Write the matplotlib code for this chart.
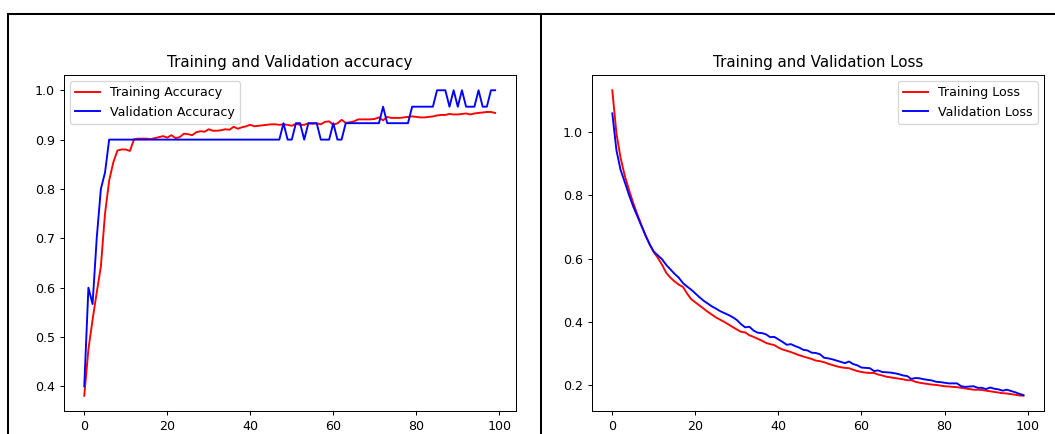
import matplotlib
matplotlib.use("Agg")
import matplotlib.pyplot as plt
from matplotlib.lines import Line2D

epochs = list(range(100))

train_acc = [
    0.381, 0.475, 0.535, 0.590, 0.643, 0.750, 0.817, 0.854, 0.878, 0.880,
    0.880, 0.877, 0.901, 0.902, 0.902, 0.902, 0.901, 0.903, 0.905, 0.907,
    0.904, 0.909, 0.903, 0.905, 0.912, 0.911, 0.909, 0.915, 0.917, 0.916,
    0.921, 0.918, 0.918, 0.919, 0.921, 0.920, 0.926, 0.922, 0.925, 0.927,
    0.930, 0.927, 0.928, 0.929, 0.930, 0.931, 0.931, 0.930, 0.931, 0.930,
    0.928, 0.932, 0.930, 0.930, 0.933, 0.932, 0.933, 0.931, 0.936, 0.937,
    0.930, 0.933, 0.940, 0.934, 0.935, 0.937, 0.941, 0.941, 0.941, 0.941,
    0.942, 0.945, 0.939, 0.946, 0.944, 0.944, 0.944, 0.945, 0.946, 0.947,
    0.946, 0.945, 0.945, 0.946, 0.947, 0.949, 0.950, 0.950, 0.952, 0.951,
    0.951, 0.952, 0.953, 0.951, 0.953, 0.954, 0.955, 0.956, 0.956, 0.954,
]

val_acc = [
    0.4000, 0.6000, 0.5667, 0.7000, 0.8000, 0.8333, 0.9000, 0.9000, 0.9000, 0.9000,
    0.9000, 0.9000, 0.9000, 0.9000, 0.9000, 0.9000, 0.9000, 0.9000, 0.9000, 0.9000,
    0.9000, 0.9000, 0.9000, 0.9000, 0.9000, 0.9000, 0.9000, 0.9000, 0.9000, 0.9000,
    0.9000, 0.9000, 0.9000, 0.9000, 0.9000, 0.9000, 0.9000, 0.9000, 0.9000, 0.9000,
    0.9000, 0.9000, 0.9000, 0.9000, 0.9000, 0.9000, 0.9000, 0.9000, 0.9333, 0.9000,
    0.9000, 0.9333, 0.9333, 0.9000, 0.9333, 0.9333, 0.9333, 0.9000, 0.9000, 0.9000,
    0.9333, 0.9000, 0.9000, 0.9333, 0.9333, 0.9333, 0.9333, 0.9333, 0.9333, 0.9333,
    0.9333, 0.9333, 0.9667, 0.9333, 0.9333, 0.9333, 0.9333, 0.9333, 0.9333, 0.9667,
    0.9667, 0.9667, 0.9667, 0.9667, 0.9667, 1.0000, 1.0000, 1.0000, 0.9667, 1.0000,
    0.9667, 1.0000, 0.9667, 0.9667, 0.9667, 1.0000, 0.9667, 0.9667, 1.0000, 1.0000,
]

train_loss = [
    1.132, 0.995, 0.918, 0.862, 0.818, 0.777, 0.741, 0.706, 0.674, 0.645,
    0.620, 0.602, 0.580, 0.555, 0.540, 0.528, 0.518, 0.511, 0.490, 0.472,
    0.462, 0.452, 0.442, 0.432, 0.423, 0.414, 0.407, 0.400, 0.392, 0.384,
    0.376, 0.369, 0.367, 0.358, 0.353, 0.347, 0.341, 0.334, 0.330, 0.327,
    0.319, 0.313, 0.309, 0.305, 0.300, 0.295, 0.291, 0.287, 0.283, 0.278,
    0.276, 0.273, 0.268, 0.264, 0.260, 0.257, 0.255, 0.254, 0.249, 0.245,
    0.242, 0.240, 0.239, 0.239, 0.234, 0.231, 0.227, 0.225, 0.223, 0.221,
    0.219, 0.216, 0.216, 0.211, 0.208, 0.206, 0.204, 0.202, 0.201, 0.199,
    0.197, 0.196, 0.195, 0.194, 0.192, 0.190, 0.188, 0.186, 0.186, 0.185,
    0.183, 0.181, 0.179, 0.177, 0.175, 0.174, 0.172, 0.170, 0.168, 0.167,
]

val_loss = [
    1.059, 0.942, 0.880, 0.842, 0.802, 0.766, 0.735, 0.704, 0.673, 0.645,
    0.622, 0.610, 0.598, 0.580, 0.566, 0.552, 0.540, 0.523, 0.512, 0.502,
    0.490, 0.478, 0.467, 0.458, 0.449, 0.442, 0.434, 0.428, 0.422, 0.415,
    0.406, 0.393, 0.383, 0.385, 0.373, 0.366, 0.365, 0.361, 0.352, 0.353,
    0.345, 0.337, 0.328, 0.330, 0.324, 0.319, 0.312, 0.310, 0.303, 0.302,
    0.298, 0.287, 0.285, 0.282, 0.278, 0.274, 0.270, 0.275, 0.267, 0.263,
    0.256, 0.255, 0.254, 0.245, 0.247, 0.242, 0.241, 0.240, 0.238, 0.235,
    0.231, 0.229, 0.220, 0.223, 0.222, 0.219, 0.217, 0.215, 0.211, 0.210,
    0.208, 0.206, 0.206, 0.206, 0.197, 0.195, 0.196, 0.197, 0.192, 0.192,
    0.188, 0.193, 0.189, 0.187, 0.183, 0.186, 0.182, 0.178, 0.173, 0.169,
]

DPI = 91
fig = plt.figure(figsize=(1055 / DPI, 434 / DPI), dpi=DPI)

ax1 = fig.add_axes([0.0604, 0.053, 0.4284, 0.7742])
ax1.plot(epochs, train_acc, color="red", label="Training Accuracy")
ax1.plot(epochs, val_acc, color="blue", label="Validation Accuracy")
ax1.set_title("Training and Validation accuracy")
ax1.legend(loc="upper left")

ax2 = fig.add_axes([0.5609, 0.053, 0.4287, 0.7742])
ax2.plot(epochs, train_loss, color="red", label="Training Loss")
ax2.plot(epochs, val_loss, color="blue", label="Validation Loss")
ax2.set_title("Training and Validation Loss")
ax2.legend(loc="upper right")

# cell border lines around the two panels
top_y = 1 - 13.5 / 434
left_x = 8.3 / 1055
mid_x = 540.8 / 1055
for xs, ys in [([left_x, 1.0], [top_y, top_y]),
               ([left_x, left_x], [0.0, top_y]),
               ([mid_x, mid_x], [0.0, top_y])]:
    fig.add_artist(Line2D(xs, ys, transform=fig.transFigure,
                          color="black", linewidth=1.6))

fig.savefig("out.png", dpi=DPI)
